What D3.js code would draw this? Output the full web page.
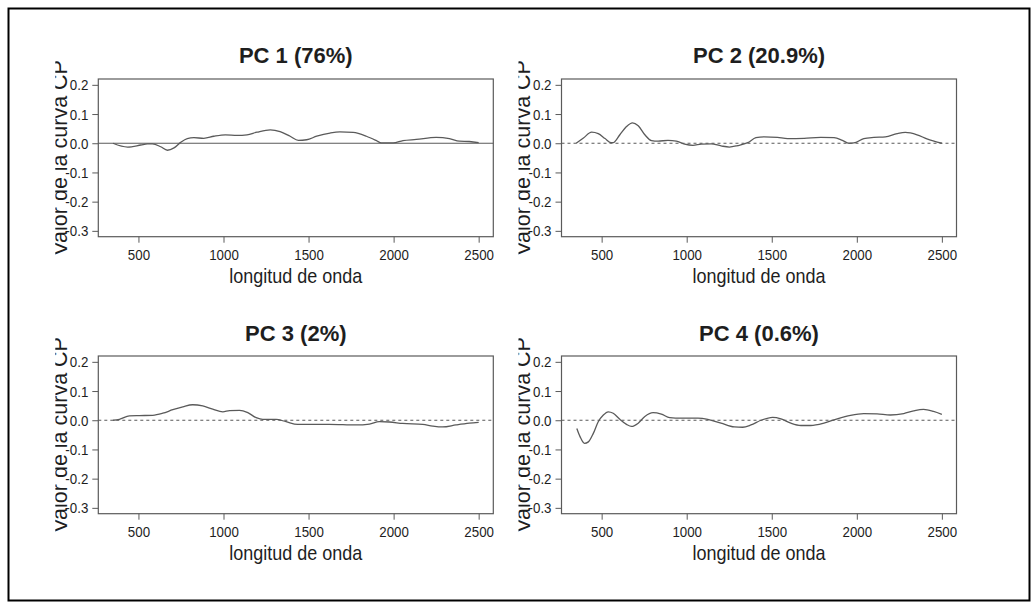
<!DOCTYPE html>
<html>
<head>
<meta charset="utf-8">
<script src="https://cdn.jsdelivr.net/npm/d3@7/dist/d3.min.js"></script>
<style>
  html, body { margin: 0; padding: 0; background: #fff; }
  svg { display: block; font-family: "Liberation Sans", Arial, Helvetica, sans-serif; }
</style>
</head>
<body>
<svg id="fig" width="1035" height="609"></svg>
<script>
// Principal component curves (wavelength in nm, loading value)
const pcTitles = ["PC 1 (76%)", "PC 2 (20.9%)", "PC 3 (2%)", "PC 4 (0.6%)"];
const wavelengthTicks = [500, 1000, 1500, 2000, 2500];
const valueTicks = [-0.3, -0.2, -0.1, 0.0, 0.1, 0.2];
const xLabel = "longitud de onda";
const yLabel = "Valor de la curva CP";

const pc1Wave = [350, 436, 514, 553, 582, 631, 670, 709, 748, 787, 826, 884, 943, 1011, 1080, 1138, 1197, 1275, 1333, 1392, 1440, 1489, 1548, 1626, 1684, 1762, 1840, 1899, 1928, 1997, 2055, 2133, 2250, 2328, 2387, 2445, 2500];
const pc1Value = [0.0, -0.013, -0.006, -0.002, -0.002, -0.012, -0.024, -0.016, 0.003, 0.016, 0.019, 0.017, 0.024, 0.029, 0.027, 0.029, 0.038, 0.046, 0.040, 0.024, 0.010, 0.012, 0.024, 0.035, 0.039, 0.037, 0.024, 0.009, 0.001, 0.001, 0.009, 0.013, 0.020, 0.016, 0.007, 0.006, 0.002];

const pc2Wave = [350, 393, 441, 480, 520, 555, 568, 607, 646, 681, 715, 754, 793, 832, 890, 939, 988, 1037, 1085, 1144, 1202, 1251, 1300, 1359, 1407, 1456, 1534, 1593, 1690, 1788, 1866, 1915, 1954, 1983, 2041, 2100, 2168, 2237, 2285, 2354, 2412, 2500];
const pc2Value = [0.0, 0.018, 0.038, 0.033, 0.016, 0.002, 0.002, 0.029, 0.057, 0.070, 0.060, 0.029, 0.009, 0.007, 0.010, 0.007, -0.003, -0.007, -0.003, -0.002, -0.009, -0.013, -0.008, 0.002, 0.019, 0.022, 0.020, 0.016, 0.017, 0.020, 0.019, 0.010, 0.0, 0.001, 0.016, 0.020, 0.022, 0.033, 0.037, 0.029, 0.015, 0.0];

const pc3Wave = [350, 388, 447, 506, 584, 643, 702, 761, 819, 878, 937, 996, 1035, 1094, 1143, 1192, 1231, 1309, 1368, 1436, 1505, 1623, 1779, 1858, 1916, 1975, 2053, 2171, 2230, 2288, 2367, 2445, 2500];
const pc3Value = [0.0, 0.003, 0.015, 0.016, 0.017, 0.024, 0.036, 0.046, 0.053, 0.049, 0.038, 0.029, 0.033, 0.034, 0.026, 0.009, 0.003, 0.003, -0.005, -0.014, -0.014, -0.014, -0.016, -0.013, -0.005, -0.006, -0.011, -0.014, -0.020, -0.023, -0.016, -0.010, -0.007];

const pc4Wave = [354, 373, 399, 422, 451, 480, 510, 539, 568, 607, 646, 676, 715, 754, 802, 851, 900, 968, 1066, 1124, 1202, 1280, 1329, 1378, 1437, 1505, 1554, 1612, 1671, 1729, 1807, 1885, 1963, 2041, 2119, 2197, 2276, 2334, 2392, 2451, 2500];
const pc4Value = [-0.028, -0.056, -0.079, -0.074, -0.045, -0.005, 0.018, 0.029, 0.024, 0.003, -0.014, -0.021, -0.010, 0.013, 0.026, 0.021, 0.009, 0.007, 0.007, 0.003, -0.010, -0.023, -0.024, -0.016, 0.0, 0.010, 0.005, -0.010, -0.018, -0.018, -0.010, 0.005, 0.017, 0.023, 0.022, 0.018, 0.023, 0.032, 0.037, 0.030, 0.020];

const panels = [
  { title: pcTitles[0], wave: pc1Wave, value: pc1Value, dashedZero: false, col: 0, row: 0 },
  { title: pcTitles[1], wave: pc2Wave, value: pc2Value, dashedZero: true,  col: 1, row: 0 },
  { title: pcTitles[2], wave: pc3Wave, value: pc3Value, dashedZero: true,  col: 0, row: 1 },
  { title: pcTitles[3], wave: pc4Wave, value: pc4Value, dashedZero: true,  col: 1, row: 1 }
];

const svg = d3.select("#fig");

// Outer frame
svg.append("rect")
  .attr("x", 8.5).attr("y", 8.5)
  .attr("width", 1021).attr("height", 592)
  .attr("fill", "none").attr("stroke", "#000").attr("stroke-width", 2);

// Plot region geometry (box of each panel)
const boxW = 395, boxH = 157.7;
const colX = [98.3, 561.5];
const rowY = [79, 356];
const titleGap = [16.5, 15];

const x = d3.scaleLinear().domain([264, 2586]).range([0, boxW]);
const y = d3.scaleLinear().domain([-0.32, 0.22]).range([boxH, 0]);

const inkText = "#1e1e1e";
const inkLine = "#5a5a5a";
const narrow = 0.86;   // horizontal squeeze of the axis lettering

panels.forEach((p, i) => {
  const g = svg.append("g")
    .attr("transform", `translate(${colX[p.col]},${rowY[p.row]})`);

  // Title
  g.append("text")
    .attr("x", boxW / 2).attr("y", -titleGap[p.row])
    .attr("text-anchor", "middle")
    .attr("font-size", 22).attr("font-weight", "bold")
    .attr("fill", inkText)
    .text(p.title);

  // Y axis
  const ya = g.append("g")
    .call(d3.axisLeft(y).tickValues(valueTicks).tickSize(6).tickPadding(4)
      .tickFormat(d => d.toFixed(1)));
  ya.select(".domain").remove();
  ya.selectAll("line").attr("stroke", inkLine);
  ya.selectAll("text")
    .attr("font-size", 15.5).attr("fill", inkText)
    .attr("font-family", "'Liberation Sans', Arial, sans-serif")
    .attr("x", -10 / narrow)
    .attr("transform", `scale(${narrow},1)`);

  // X axis
  const xa = g.append("g")
    .attr("transform", `translate(0,${boxH})`)
    .call(d3.axisBottom(x).tickValues(wavelengthTicks).tickSize(6).tickPadding(6.5)
      .tickFormat(d3.format("d")));
  xa.select(".domain").remove();
  xa.selectAll("line").attr("stroke", inkLine);
  xa.selectAll("text")
    .attr("font-size", 15.5).attr("fill", inkText)
    .attr("font-family", "'Liberation Sans', Arial, sans-serif")
    .attr("transform", `scale(${narrow},1)`);

  // X axis title
  g.append("text")
    .attr("transform", `translate(${boxW / 2},${boxH + 46}) scale(0.9,1)`)
    .attr("text-anchor", "middle")
    .attr("font-size", 20).attr("fill", inkText)
    .text(xLabel);

  // Y axis title, its left edge clipped away
  const clipId = `ylab-clip-${i}`;
  svg.append("clipPath").attr("id", clipId)
    .append("rect")
    .attr("x", -43).attr("y", -80).attr("width", 60).attr("height", 320);
  g.append("g").attr("clip-path", `url(#${clipId})`)
    .append("text")
    .attr("transform", `translate(-31.5,${boxH / 2}) rotate(-90)`)
    .attr("text-anchor", "middle")
    .attr("font-size", 21.5).attr("fill", inkText)
    .text(yLabel);

  // Zero reference line
  g.append("line")
    .attr("x1", 0).attr("x2", boxW)
    .attr("y1", y(0)).attr("y2", y(0))
    .attr("stroke", inkLine).attr("stroke-width", 1.2)
    .attr("stroke-dasharray", p.dashedZero ? "3,3" : null);

  // Component curve
  const pts = p.wave.map((w, k) => [w, p.value[k]]);
  g.append("path")
    .datum(pts)
    .attr("fill", "none")
    .attr("stroke", inkLine).attr("stroke-width", 1.3)
    .attr("d", d3.line().x(d => x(d[0])).y(d => y(d[1])).curve(d3.curveMonotoneX));

  // Plot box
  g.append("rect")
    .attr("x", 0).attr("y", 0).attr("width", boxW).attr("height", boxH)
    .attr("fill", "none").attr("stroke", inkLine).attr("stroke-width", 1.2);
});
</script>
</body>
</html>
